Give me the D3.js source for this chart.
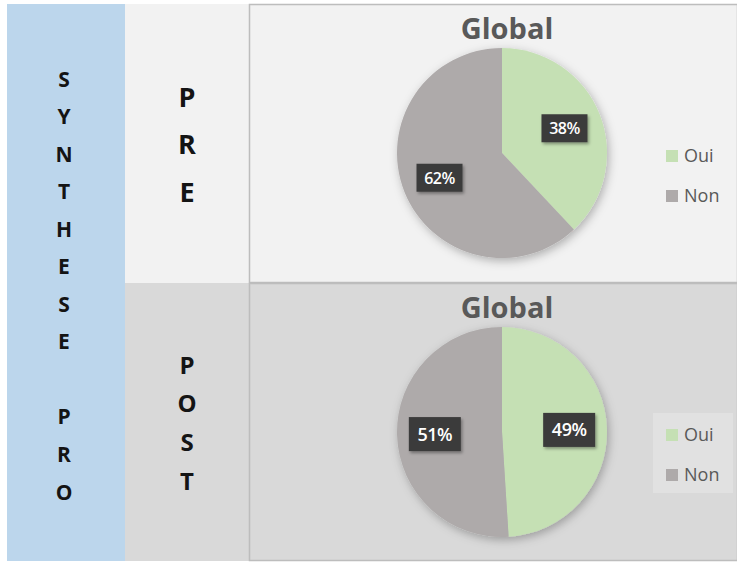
<!DOCTYPE html>
<html>
<head>
<meta charset="utf-8">
<script src="https://cdn.jsdelivr.net/npm/d3@7"></script>
<style>
  html, body { margin: 0; padding: 0; background: #ffffff; }
  svg { display: block; }
</style>
</head>
<body>
<svg id="chart" width="737" height="563"></svg>
<script>
// ---- data ----
const sideTitle = "SYNTHESE PRO";
const panelNames = ["PRE", "POST"];
const chartTitles = ["Global", "Global"];
const categories = ["Oui", "Non"];
const preValues = [38, 62];
const postValues = [49, 51];

const panelValues = [preValues, postValues];
const colour = d3.scaleOrdinal().domain(categories).range(["#c5e0b4", "#aeaaaa"]);

const svg = d3.select("#chart");
const W = 737, H = 563;
const font = "'Open Sans', 'Liberation Sans', sans-serif";

// layout of the grid
const gridTop = 4, gridBottom = 561, gridSplit = 283;
const colX = [7, 125, 249, W];
const rowY = d3.scaleOrdinal().domain(panelNames).range([[gridTop, gridSplit], [gridSplit, gridBottom]]);
const rowFill = d3.scaleOrdinal().domain(panelNames).range(["#f2f2f2", "#d9d9d9"]);

// shadow filters
const defs = svg.append("defs");
const pieShadow = defs.append("filter").attr("id", "pieShadow")
  .attr("x", "-20%").attr("y", "-20%").attr("width", "150%").attr("height", "150%");
pieShadow.append("feDropShadow").attr("dx", 2).attr("dy", 3)
  .attr("stdDeviation", 5).attr("flood-color", "#000").attr("flood-opacity", 0.28);
const boxShadow = defs.append("filter").attr("id", "boxShadow")
  .attr("x", "-30%").attr("y", "-30%").attr("width", "170%").attr("height", "170%");
boxShadow.append("feDropShadow").attr("dx", 1.5).attr("dy", 2)
  .attr("stdDeviation", 1.5).attr("flood-color", "#000").attr("flood-opacity", 0.35);

// white page
svg.append("rect").attr("width", W).attr("height", H).attr("fill", "#ffffff");

// blue side column
svg.append("rect")
  .attr("x", colX[0]).attr("y", gridTop)
  .attr("width", colX[1] - colX[0]).attr("height", gridBottom - gridTop)
  .attr("fill", "#bcd6ec");

const sideLetters = Array.from(sideTitle);
const sideY = d3.scalePoint().domain(d3.range(sideLetters.length)).range([79, 492]);
svg.append("g").selectAll("text").data(sideLetters).join("text")
  .attr("x", 64).attr("y", (d, i) => sideY(i))
  .attr("dy", "0.36em")
  .attr("text-anchor", "middle")
  .attr("font-family", font).attr("font-weight", 700).attr("font-size", 21)
  .attr("fill", "#141414")
  .text(d => d);

// row label cells
const letterRanges = { PRE: [97, 192], POST: [365, 481] };
panelNames.forEach(name => {
  const [y0, y1] = rowY(name);
  svg.append("rect")
    .attr("x", colX[1]).attr("y", y0)
    .attr("width", colX[2] - colX[1]).attr("height", y1 - y0)
    .attr("fill", rowFill(name));
  const letters = Array.from(name);
  const ly = d3.scalePoint().domain(d3.range(letters.length)).range(letterRanges[name]);
  svg.append("g").selectAll("text").data(letters).join("text")
    .attr("x", 187).attr("y", (d, i) => ly(i))
    .attr("dy", "0.36em")
    .attr("text-anchor", "middle")
    .attr("font-family", font).attr("font-weight", 700)
    .attr("font-size", name === "PRE" ? 27 : 24)
    .attr("fill", "#141414")
    .text(d => d);
});

// pie charts
const pie = d3.pie().sort(null).value(d => d.value);
const radius = 105;
const arc = d3.arc().innerRadius(0).outerRadius(radius);
const labelArc = d3.arc().innerRadius(radius * 0.64).outerRadius(radius * 0.64);

panelNames.forEach((name, p) => {
  const [y0, y1] = rowY(name);
  const g = svg.append("g");
  g.append("rect")
    .attr("x", colX[2] + 0.5).attr("y", y0 + 0.5)
    .attr("width", colX[3] - colX[2]).attr("height", y1 - y0 - 1)
    .attr("fill", rowFill(name))
    .attr("stroke", "#bdbdbd").attr("stroke-width", 1.5);

  g.append("text")
    .attr("x", 507).attr("y", y0 + 35)
    .attr("text-anchor", "middle")
    .attr("font-family", font).attr("font-weight", 700).attr("font-size", 29)
    .attr("fill", "#595959")
    .text(chartTitles[p]);

  const data = categories.map((c, i) => ({ cat: c, value: panelValues[p][i] }));
  const arcs = pie(data);
  const cx = 502, cy = y0 + 149;
  const pg = g.append("g").attr("transform", `translate(${cx},${cy})`);
  pg.append("g").attr("filter", "url(#pieShadow)")
    .selectAll("path").data(arcs).join("path")
    .attr("d", arc)
    .attr("fill", d => colour(d.data.cat));

  const fs = name === "PRE" ? 16 : 18;
  const bw = name === "PRE" ? 46 : 52, bh = name === "PRE" ? 28 : 34;
  const lab = pg.append("g").selectAll("g").data(arcs).join("g")
    .attr("transform", d => `translate(${labelArc.centroid(d)})`);
  lab.append("rect")
    .attr("x", -bw / 2).attr("y", -bh / 2).attr("width", bw).attr("height", bh)
    .attr("fill", "#3a3a3a")
    .attr("filter", "url(#boxShadow)");
  lab.append("text")
    .attr("text-anchor", "middle").attr("dy", "0.36em")
    .attr("font-family", font).attr("font-weight", 600).attr("font-size", fs)
    .attr("letter-spacing", -0.5)
    .attr("fill", "#ffffff")
    .text(d => d.data.value + "%");

  // legend
  const lg = g.append("g");
  if (name === "POST") {
    lg.append("rect")
      .attr("x", 653).attr("y", y0 + 130).attr("width", 80).attr("height", 80)
      .attr("fill", "#e1e1e1");
  }
  const legY = d3.scalePoint().domain(categories).range([y0 + 152, y0 + 192]);
  const item = lg.selectAll("g.item").data(categories).join("g").attr("class", "item")
    .attr("transform", c => `translate(666,${legY(c)})`);
  item.append("rect")
    .attr("x", 0).attr("y", -6).attr("width", 12).attr("height", 12)
    .attr("fill", c => colour(c));
  item.append("text")
    .attr("x", 18).attr("dy", "0.36em")
    .attr("font-family", font).attr("font-size", 18)
    .attr("fill", "#595959")
    .text(c => c);
});
</script>
</body>
</html>
